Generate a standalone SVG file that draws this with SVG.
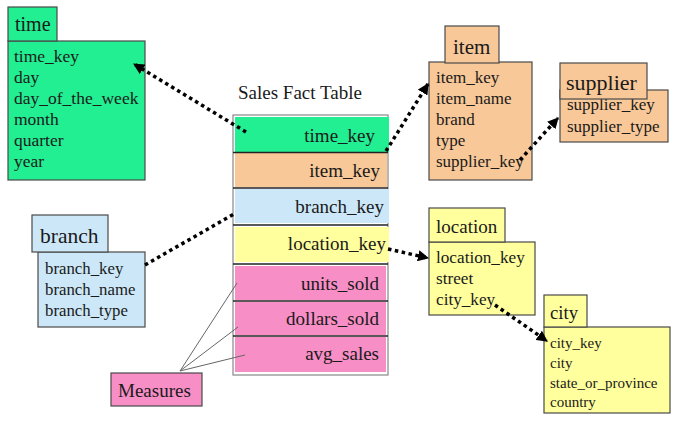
<svg xmlns="http://www.w3.org/2000/svg" width="675" height="424" viewBox="0 0 675 424">
<defs>
<style>
text{font-family:'Liberation Serif','Times New Roman','DejaVu Serif',serif;fill:#1a1a1a}
.b{stroke:#4a4a4a;stroke-width:1.2}
.r{text-anchor:end}
.f{font-size:19px}
.g{fill:#22EE92}
.o{fill:#F8C898}
.lb{fill:#CCE8F8}
.y{fill:#FFFF9E}
.p{fill:#F88EC6}
.dot{fill:none;stroke:#000;stroke-width:3.5;stroke-dasharray:3.5 3.5}
.thin{fill:none;stroke:#666;stroke-width:1}
.sep{stroke:#222;stroke-width:1.5}
</style>
<marker id="ah" viewBox="0 0 10 10" refX="9" refY="5" markerWidth="3.2" markerHeight="3.2" orient="auto" markerUnits="strokeWidth">
<path d="M0,0 L10,5 L0,10 z" fill="#000"/>
</marker>
</defs>
<rect width="675" height="424" fill="#fff"/>
<g font-family="Liberation Serif, Times New Roman, serif">
<g id="time" font-size="17.5">
<rect class="b g" x="8" y="41" width="137" height="139"/>
<rect class="b g" x="8" y="7" width="49" height="34"/>
<text x="15" y="31" font-size="20">time</text>
<text x="14" y="62">time_key</text>
<text x="14" y="83">day</text>
<text x="14" y="104">day_of_the_week</text>
<text x="14" y="125">month</text>
<text x="14" y="146">quarter</text>
<text x="14" y="167">year</text>
</g>

<g id="fact">
<text class="f" x="238" y="99">Sales Fact Table</text>
<rect x="233" y="115" width="155" height="260" fill="#fff" stroke="#888" stroke-width="1.2"/>
<rect class="g" x="235" y="117" width="154" height="35"/>
<rect class="o" x="235" y="153" width="152" height="34"/>
<rect class="lb" x="235" y="189" width="154" height="34"/>
<rect class="y" x="235" y="227" width="154" height="35"/>
<rect class="p" x="235" y="266" width="151" height="34"/>
<rect class="p" x="235" y="302" width="151" height="33"/>
<rect class="p" x="235" y="337" width="151" height="35"/>
<line class="sep" x1="233" y1="152.5" x2="388" y2="152.5"/>
<line class="sep" x1="233" y1="188" x2="388" y2="188"/>
<line class="sep" x1="233" y1="225" x2="388" y2="225"/>
<line class="sep" x1="233" y1="264" x2="388" y2="264"/>
<line class="sep" x1="233" y1="301" x2="388" y2="301"/>
<line class="sep" x1="233" y1="336" x2="388" y2="336"/>
<text class="f r" x="375" y="142">time_key</text>
<text class="f r" x="380" y="177">item_key</text>
<text class="f r" x="384" y="213">branch_key</text>
<text class="f r" x="386" y="250">location_key</text>
<text class="f r" x="379" y="290">units_sold</text>
<text class="f r" x="379" y="325">dollars_sold</text>
<text class="f r" x="379" y="360">avg_sales</text>
</g>

<g id="item" font-size="17">
<rect class="b o" x="429" y="62" width="103" height="118"/>
<rect class="b o" x="445" y="26" width="54" height="37"/>
<text x="453" y="54" font-size="21">item</text>
<text x="436" y="83">item_key</text>
<text x="436" y="104">item_name</text>
<text x="436" y="125">brand</text>
<text x="436" y="146">type</text>
<text x="436" y="167">supplier_key</text>
</g>

<g id="supplier" font-size="17">
<rect class="b o" x="560" y="90" width="108" height="52"/>
<text x="567" y="110">supplier_key</text>
<text x="567" y="132">supplier_type</text>
<rect class="b o" x="560" y="63" width="87" height="36"/>
<text x="566" y="90" font-size="22">supplier</text>
</g>

<g id="branch" font-size="16.8">
<rect class="b lb" x="38" y="252" width="107" height="75"/>
<rect class="b lb" x="32" y="215" width="76" height="37"/>
<text x="40" y="243" font-size="21.5">branch</text>
<text x="45" y="274">branch_key</text>
<text x="45" y="295">branch_name</text>
<text x="45" y="316">branch_type</text>
</g>

<g id="location" font-size="17.2">
<rect class="b y" x="429" y="242" width="106" height="73"/>
<rect class="b y" x="429" y="208" width="76" height="34"/>
<text x="436" y="233" font-size="19">location</text>
<text x="436" y="263">location_key</text>
<text x="436" y="284">street</text>
<text x="436" y="305">city_key</text>
</g>

<g id="city" font-size="15">
<rect class="b y" x="544" y="327" width="126" height="86"/>
<rect class="b y" x="544" y="295" width="43" height="32"/>
<text x="550" y="319" font-size="18.7">city</text>
<text x="550" y="348">city_key</text>
<text x="550" y="368">city</text>
<text x="550" y="388">state_or_province</text>
<text x="550" y="407">country</text>
</g>

<g id="measures">
<rect class="b p" x="111" y="373" width="91" height="33"/>
<text class="f" x="118" y="397">Measures</text>
</g>
</g>
<g id="connectors">
<line class="dot" x1="246" y1="132" x2="134" y2="64" marker-end="url(#ah)"/>
<line class="dot" x1="386" y1="151" x2="428" y2="84" marker-end="url(#ah)"/>
<line class="dot" x1="520" y1="160" x2="558" y2="118" marker-end="url(#ah)"/>
<line class="dot" x1="145" y1="265" x2="234" y2="214"/>
<line class="dot" x1="388" y1="249" x2="428" y2="258" marker-end="url(#ah)"/>
<line class="dot" x1="495" y1="305" x2="547" y2="341" marker-end="url(#ah)"/>
<line class="thin" x1="180" y1="371" x2="237" y2="283"/>
<line class="thin" x1="180" y1="371" x2="238" y2="327"/>
<line class="thin" x1="180" y1="371" x2="245" y2="355"/>
</g>
</svg>
